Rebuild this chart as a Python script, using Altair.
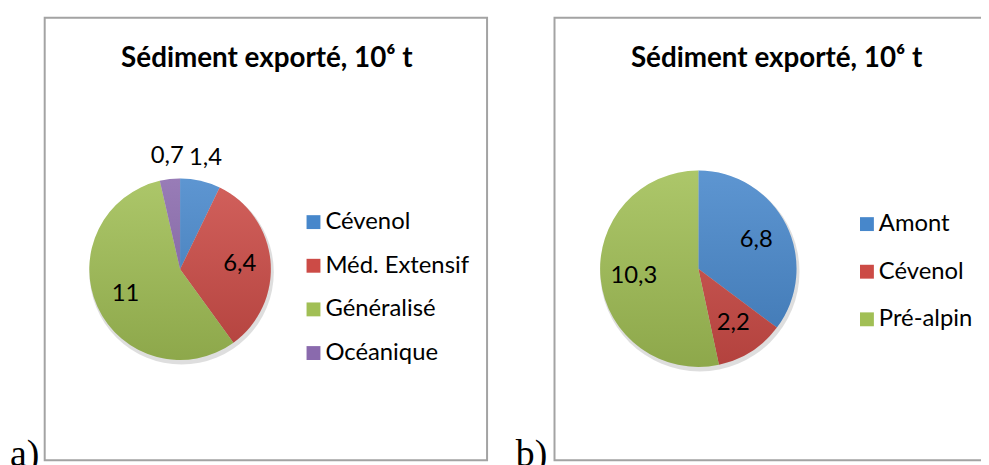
import altair as alt
import pandas as pd

# ---- data ----
cats_a = ["Cévenol", "Méd. Extensif", "Généralisé", "Océanique"]
vals_a = [1.4, 6.4, 11, 0.7]
cols_a = ["#4787CB", "#CC4B46", "#A1BF55", "#8A6AAD"]

cats_b = ["Amont", "Cévenol", "Pré-alpin"]
vals_b = [6.8, 2.2, 10.3]
cols_b = ["#4787CB", "#CC4B46", "#A1BF55"]

title_text = "Sédiment exporté, 10⁶ t"
panel_tags = ["a)", "b)"]

W, H = 981, 457
FONT = "Lato"


def fmt(v):
    return f"{v:g}".replace(".", ",")


def make_df(cats, vals):
    return pd.DataFrame({
        "cat": cats,
        "value": vals,
        "idx": list(range(len(cats))),
        "label": [fmt(v) for v in vals],
    })


gloss_fill = alt.Gradient(
    gradient="linear",
    stops=[alt.GradientStop(color="rgba(255,255,255,0.12)", offset=0),
           alt.GradientStop(color="rgba(0,0,0,0.12)", offset=1)],
    x1=0, x2=0, y1=0, y2=1,
)


def pie(df, colors, cx, cy, R, lx, ly, row_pad):
    base = alt.Chart(df)
    shadow = base.transform_aggregate(total="sum(value)").mark_arc(
        radius=R + 1.5, color="#000000", opacity=0.13
    ).encode(theta=alt.Theta("total:Q"), x=alt.value(cx + 1.5), y=alt.value(cy + 3))
    slices = base.mark_arc(radius=R, strokeWidth=0).encode(
        theta=alt.Theta("value:Q", stack=True),
        color=alt.Color(
            "cat:N",
            scale=alt.Scale(domain=list(df["cat"]), range=colors),
            legend=alt.Legend(
                orient="none", legendX=lx, legendY=ly, title=None,
                symbolType="square", symbolSize=196, symbolStrokeWidth=0,
                labelFont=FONT, labelFontSize=24, labelColor="#000000",
                labelOffset=0, rowPadding=row_pad, padding=0, labelLimit=400,
            ),
        ),
        order=alt.Order("idx:Q"),
        x=alt.value(cx), y=alt.value(cy),
    )
    gloss = base.transform_aggregate(total="sum(value)").mark_arc(
        radius=R, fill=gloss_fill, strokeWidth=0
    ).encode(theta=alt.Theta("total:Q"), x=alt.value(cx), y=alt.value(cy))
    labels = base.transform_joinaggregate(
        total="sum(value)"
    ).transform_window(
        cum="sum(value)", sort=[alt.SortField("idx")], frame=[None, 0]
    ).transform_calculate(
        mid="datum.cum - datum.value / 2",
        lr=f"datum.value / datum.total < 0.1 ? {R + 23} : {0.66 * R}",
    ).mark_text(font=FONT, fontSize=24, color="#000000", baseline="middle", align="center").encode(
        theta=alt.Theta("mid:Q", stack=None),
        radius=alt.Radius("lr:Q", scale=None),
        text="label:N",
        x=alt.value(cx), y=alt.value(cy),
    )
    return alt.layer(shadow, slices, gloss, labels)


def frame(tag, x0, x1, tag_x, title_x):
    d = alt.Chart(pd.DataFrame({"tag": [tag], "title": [title_text]}))
    box = d.mark_rect(fill="#FFFFFF", stroke="#A3A3A3", strokeWidth=2).encode(
        x=alt.value(x0), x2=alt.value(x1), y=alt.value(8), y2=alt.value(454))
    lab = d.mark_text(font="Liberation Serif", fontSize=38, align="left", baseline="alphabetic",
                      color="#000000").encode(text="tag:N", x=alt.value(tag_x), y=alt.value(460))
    ttl = d.mark_text(font=FONT, fontWeight="bold", fontSize=28, align="center",
                      baseline="alphabetic", color="#000000").encode(
        text="title:N", x=alt.value(title_x), y=alt.value(58))
    return alt.layer(box, lab, ttl)


df_a = make_df(cats_a, vals_a)
df_b = make_df(cats_b, vals_b)

chart = alt.layer(
    frame(panel_tags[0], 37, 483, 2, 261),
    frame(panel_tags[1], 551, 995, 512, 775),
    pie(df_a, cols_a, 173.5, 261.5, 91.5, 296, 202, 20),
    pie(df_b, cols_b, 696, 261, 99, 854, 204, 24),
).resolve_scale(color="independent", theta="independent").properties(
    width=W, height=H, padding=0,
    autosize=alt.AutoSizeParams(type="none"),
    background="#FFFFFF",
).configure_view(stroke=None)

chart.save("out.html", embed_options={"renderer": "svg", "actions": False})
